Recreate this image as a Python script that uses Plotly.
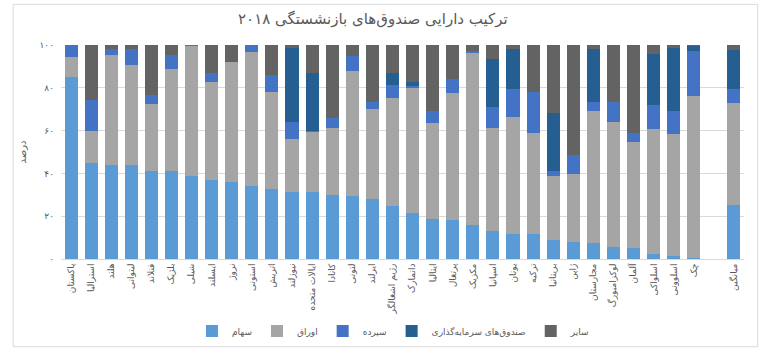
import plotly.graph_objects as go

categories = ["پاکستان", "استرالیا", "هلند", "لیتوانی", "فنلاند", "بلژیک", "شیلی", "ایسلند",
              "نروژ", "استونی", "اتریش", "نیوزلند", "ایالات متحده", "کانادا", "لتونی", "ایرلند",
              "رژیم اشغالگر", "دانمارک", "ایتالیا", "پرتغال", "مکزیک", "اسپانیا", "یونان", "ترکیه",
              "بریتانیا", "ژاپن", "مجارستان", "لوکزامبورگ", "آلمان", "اسلواکی", "اسلوونی", "چک",
              " ", "میانگین"]

sahām = [85.0, 44.9, 43.8, 43.8, 41.2, 41.2, 38.9, 37.0, 35.9, 34.2, 32.6, 31.5, 31.2, 29.8, 29.5, 28.1,
         24.6, 21.3, 18.8, 18.0, 15.9, 13.1, 11.7, 11.7, 8.7, 8.1, 7.3, 5.7, 5.1, 2.2, 1.6, 0.5,
         None, 25.2]
owraq = [9.2, 15.1, 51.6, 47.0, 31.4, 47.4, 60.7, 45.8, 56.1, 62.6, 45.6, 24.4, 28.5, 31.6, 58.3, 42.1,
         50.6, 59.0, 44.6, 59.4, 80.4, 48.3, 54.5, 47.0, 30.3, 31.4, 61.9, 58.5, 49.4, 58.7, 56.8, 75.8,
         None, 47.5]
sepordeh = [5.8, 14.3, 2.7, 7.3, 3.9, 6.5, 0.4, 4.2, 0.0, 3.2, 7.7, 8.0, 0.3, 4.3, 7.2, 3.0,
            6.1, 0.5, 5.8, 6.7, 1.0, 9.6, 13.1, 19.5, 2.3, 9.0, 4.0, 9.0, 4.4, 11.2, 10.6, 21.0,
            None, 6.9]
sandogh = [0, 0, 0, 0, 0, 0, 0, 0, 0, 0, 0, 34.9, 27.0, 0, 0, 0,
           5.7, 2.0, 0, 0, 0, 22.4, 18.9, 0, 26.9, 0, 25.0, 0, 0, 23.8, 29.7, 2.5,
           None, 18.1]
sayer = [0, 25.7, 1.9, 1.9, 23.5, 4.9, 0, 13.0, 8.0, 0, 14.1, 1.2, 13.0, 34.3, 5.0, 26.8,
         13.0, 17.2, 30.8, 15.9, 2.7, 6.6, 1.8, 21.8, 31.8, 51.5, 1.8, 26.8, 41.1, 4.1, 1.3, 0.2,
         None, 2.3]

series_names = ["سهام", "اوراق", "سپرده", "صندوق‌های سرمایه‌گذاری", "سایر"]
series_values = [sahām, owraq, sepordeh, sandogh, sayer]
colors = ["#5B9BD5", "#A5A5A5", "#4472C4", "#255E91", "#636363"]

y_ticks = [0, 20, 40, 60, 80, 100]
y_ticktext = ["۰", "۲۰", "۴۰", "۶۰", "۸۰", "۱۰۰"]

FONT = "DejaVu Sans, Noto Sans, sans-serif"

fig = go.Figure()
for name, vals, col in zip(series_names, series_values, colors):
    fig.add_trace(go.Bar(x=categories, y=vals, name=name, marker_color=col,
                         marker_line_width=0))

fig.update_layout(
    width=764, height=361,
    barmode="stack",
    bargap=0.35,
    paper_bgcolor="white",
    plot_bgcolor="white",
    margin=dict(l=61, r=20, t=45, b=102, autoexpand=False),
    font=dict(family=FONT, color="#595959", size=10),
    title=dict(text="ترکیب دارایی صندوق‌های بازنشستگی ۲۰۱۸", x=0.488, xanchor="center",
               xref="container", yref="container",
               y=1 - 19 / 361, yanchor="middle", font=dict(size=15, color="#595959", family=FONT)),
    legend=dict(orientation="h", x=0.515, xanchor="center", xref="container",
                yref="container", y=1 - 331 / 361, yanchor="middle",
                font=dict(size=9, color="#595959"), traceorder="normal",
                itemwidth=30, tracegroupgap=0),
    showlegend=True,
)
fig.update_xaxes(type="category", categoryorder="array", categoryarray=categories,
                 tickangle=-90, tickfont=dict(size=9, color="#595959"), automargin=False,
                 showline=True, linecolor="#D9D9D9", linewidth=1, ticks="",
                 showgrid=False)
fig.update_yaxes(range=[0, 100], tickvals=y_ticks, ticktext=y_ticktext, automargin=False,
                 showgrid=True, gridcolor="#D9D9D9", gridwidth=1, zeroline=False,
                 tickfont=dict(size=9, color="#595959"), ticklabelstandoff=6,
                 title=dict(text="درصد", font=dict(size=10, color="#595959"), standoff=10))

# chart frame
fig.add_shape(type="rect", xref="paper", yref="paper",
              x0=-0.07, x1=1.02, y0=-0.41, y1=1.19,
              line=dict(color="#D9D9D9", width=1), fillcolor="rgba(0,0,0,0)", layer="below")

fig.write_html("out.html", config={"displayModeBar": False},
               post_script="document.body.style.margin='0';document.body.style.overflow='hidden';")
